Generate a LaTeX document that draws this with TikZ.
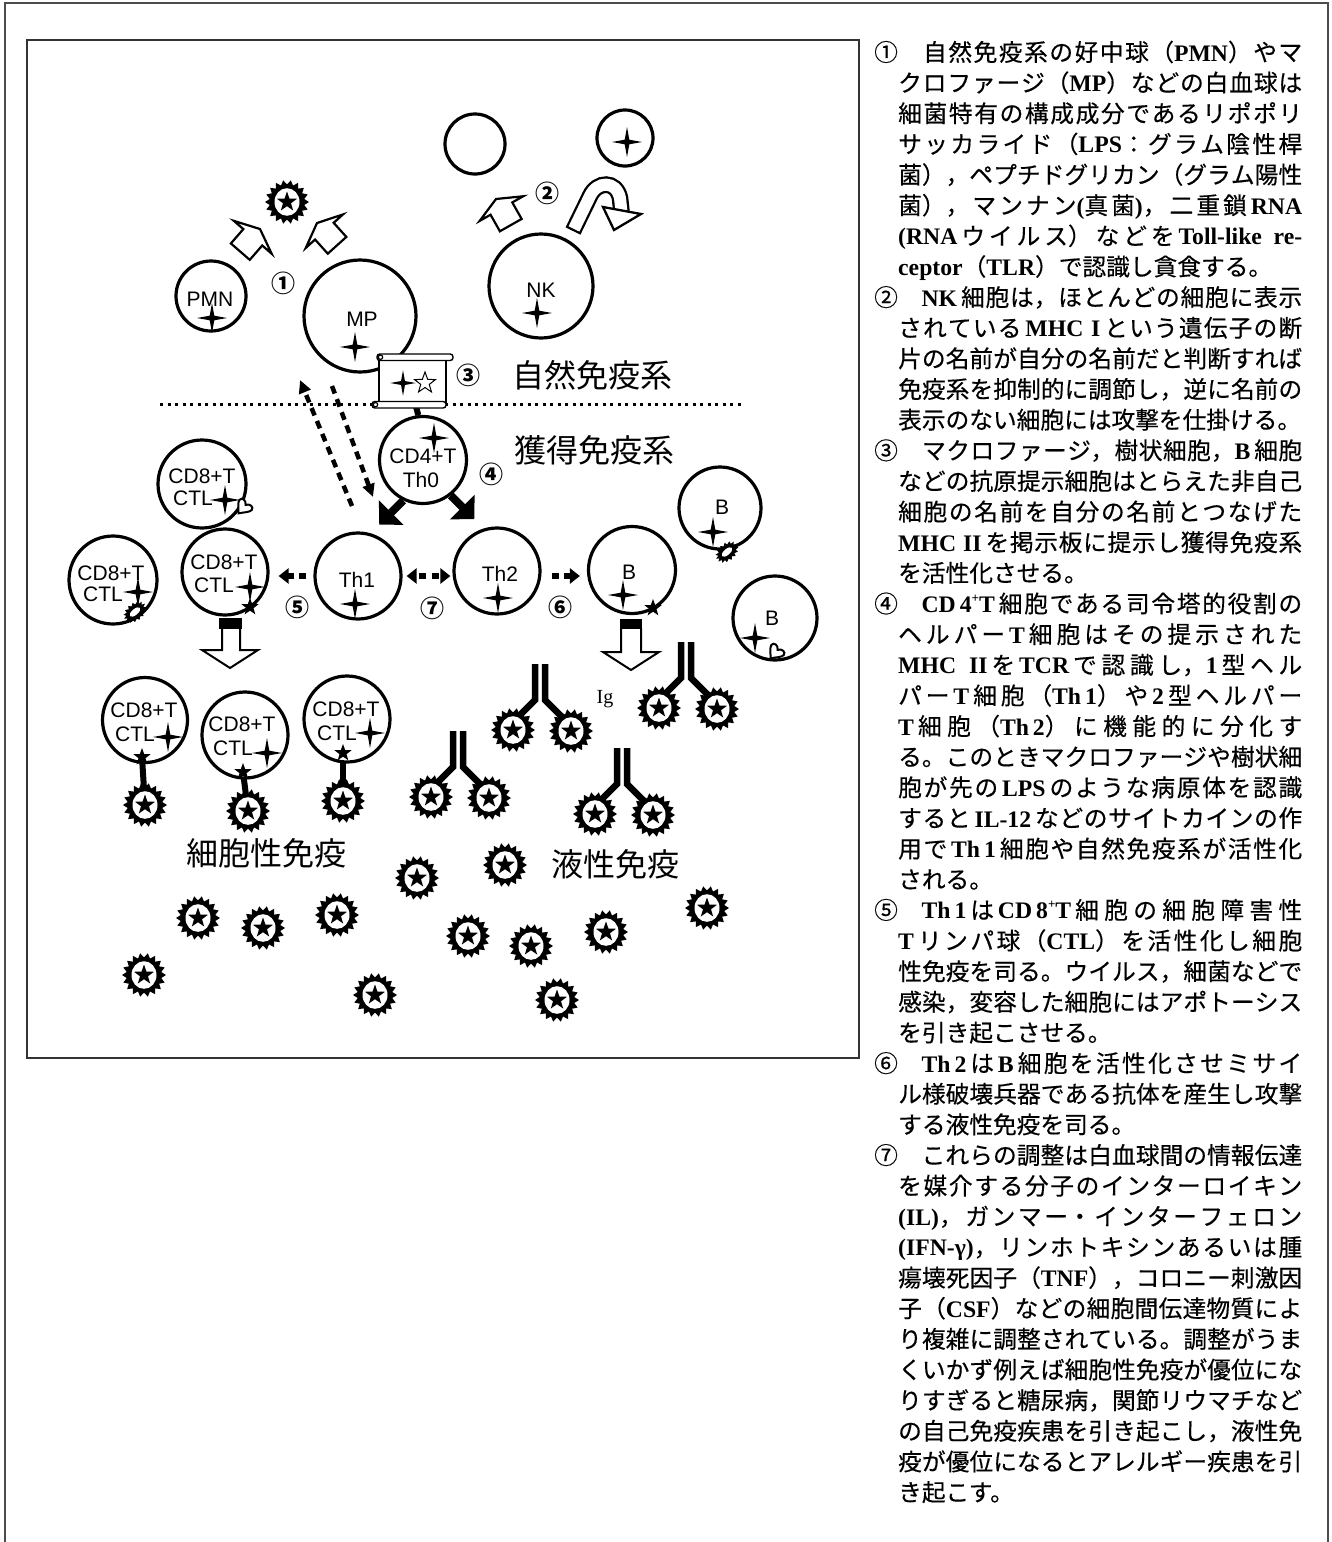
\documentclass[tikz,border=0pt]{standalone}
\usepackage{fontspec}
\usetikzlibrary{arrows.meta}
\newfontfamily\hv{Liberation Sans}
\newfontfamily\jp{Noto Sans CJK JP}
\newfontfamily\jpt{Noto Sans CJK JP}[FakeBold=0.4]
\newfontfamily\tm{Liberation Serif}
\XeTeXlinebreaklocale "ja"
\XeTeXlinebreakskip=0pt plus 2pt minus 0.6pt
\newcommand\e[1]{{\tm\bfseries #1}}
\newcommand\supp[1]{\raisebox{0.42em}{\fontsize{13}{13}\selectfont #1}}
\newcommand\jpar{\tolerance=10000\hbadness=10000\parfillskip=0pt\relax}
\newcommand\jfirst[2]{\pgfmathsetmacro\yy{61+(#1-1)*30.64}\node[txt] at (874,\yy) {\parbox[b]{428pt}{\jpar #2}};}
\newcommand\jmid[2]{\pgfmathsetmacro\yy{61+(#1-1)*30.64}\node[txt] at (898,\yy) {\parbox[b]{404pt}{\jpar #2}};}
\newcommand\jlast[2]{\pgfmathsetmacro\yy{61+(#1-1)*30.64}\node[txt] at (898,\yy) {#2};}
% open block arrow, tip at (#1,#2), pointing at angle #3
\newcommand\openarrow[3]{%
  \begin{scope}[shift={(#1,#2)}, rotate=#3]
    \draw[line width=2.2pt, fill=white, line join=miter] (0,0) -- (-11,-25) -- (-11,-12.5) -- (-30,-12.5) -- (-30,12.5) -- (-11,12.5) -- (-11,25) -- cycle;
  \end{scope}}
% antibody with stem centre #1 and top #2
\newcommand\antibody[2]{%
  \draw[line width=6.5pt, line join=miter] ({#1-5},#2) -- ({#1-5},{#2+36}) -- ({#1-20},{#2+51});
  \draw[line width=6.5pt, line join=miter] ({#1+5},#2) -- ({#1+5},{#2+36}) -- ({#1+22},{#2+53});
  \pic at ({#1-27},{#2+66}) {germ};
  \pic at ({#1+31},{#2+67}) {germ};}
\tikzset{
  cell/.style={circle, draw, line width=3.2pt, fill=white, inner sep=0pt, minimum size=#1},
  lbl/.style={font=\hv\fontsize{21}{21}\selectfont, inner sep=0pt},
  num/.style={font=\jp\bfseries\fontsize{24}{24}\selectfont, inner sep=0pt},
  big/.style={font=\jp\fontsize{32}{32}\selectfont, inner sep=0pt},
  txt/.style={anchor=base west, inner sep=0pt, font=\jpt\fontsize{23.7}{30}\selectfont},
  darr/.style={line width=6pt, dash pattern=on 7pt off 5pt, -{Triangle[length=10pt,width=15pt]}},
  darrtwo/.style={line width=6pt, dash pattern=on 0pt off 3pt on 7pt off 6pt on 7pt off 30pt, {Triangle[length=10pt,width=15pt]}-{Triangle[length=10pt,width=15pt]}},
  ddiag/.style={line width=4.5pt, dash pattern=on 8pt off 6pt, -{Triangle[length=13pt,width=12pt]}},
  fatarrow/.style={line width=8pt, -{Triangle[length=17pt,width=34pt]}},
  sparkle/.pic={\fill (0,-15) -- (2.3,-2.3) -- (15,0) -- (2.3,2.3) -- (0,15) -- (-2.3,2.3) -- (-15,0) -- (-2.3,-2.3) -- cycle;},
  germ/.pic={
    \fill (0:22) \foreach \a in {0,20,...,340}{ -- ({\a+10}:17.5) -- ({\a+20}:22) } -- cycle;
    \fill[white] (0,0) ellipse (12.5 and 13.8);
    \fill (-90:10.5) \foreach \k in {1,...,4}{ -- ({-90+36*(2*\k-1)}:4.2) -- ({-90+72*\k}:10.5) } -- (234:4.2) -- cycle;},
  bstar/.pic={\fill (-90:9) \foreach \k in {1,...,4}{ -- ({-90+36*(2*\k-1)}:3.7) -- ({-90+72*\k}:9) } -- (234:3.7) -- cycle;},
  wstar/.pic={\draw[line width=1pt, fill=white] (-90:11) \foreach \k in {1,...,4}{ -- ({-90+36*(2*\k-1)}:4.5) -- ({-90+72*\k}:11) } -- (234:4.5) -- cycle;},
  heart/.pic={\draw[line width=2pt, fill=white] (0,7) .. controls (-3,3) and (-8,-1) .. (-8,-4) .. controls (-8,-8) and (-2,-8) .. (0,-4) .. controls (2,-8) and (8,-8) .. (8,-4) .. controls (8,-1) and (3,3) .. (0,7) -- cycle;},
  blob/.pic={
    \fill ({13},0) \foreach \a in {0,24,...,336}{ -- ({10*cos(\a+12)},{6.5*sin(\a+12)}) -- ({13*cos(\a+24)},{9*sin(\a+24)}) } -- cycle;
    \fill[white] (0,0) ellipse (6.5 and 3);},
}
\begin{document}
\begin{tikzpicture}[x=1pt,y=-1pt]
\useasboundingbox (0,0) rectangle (1331,1542);

% page frame (open at the bottom) and figure frame
\draw[black!70, line width=2pt] (4.5,1542) -- (4.5,2.5) -- (1327.5,2.5) -- (1327.5,1542);
\node[draw=black!80, line width=1.5pt, minimum width=832pt, minimum height=1018pt, inner sep=0pt] (frame) at (443,549) {};

% boundary between innate and acquired immunity
\draw[line width=3pt, dash pattern=on 3pt off 4.5pt] (160,404) -- (743,404);

% ---------------- innate immunity ----------------
\pic at (287,202) {germ};
\openarrow{260}{229}{49}
\openarrow{317}{223}{132}
\node[num] at (283,283) {①};

\node[cell=70pt] (pmn) at (211,296) {};
\node[lbl] at (210,299) {PMN};
\pic at (212,318) {sparkle};

\node[cell=112pt] (mp) at (360,316) {};
\node[lbl] at (362,319) {MP};
\pic at (355,347) {sparkle};

\node[cell=60pt] (free) at (475,144) {};
\node[cell=56pt] (self) at (625,138) {};
\pic at (627,142) {sparkle};
\openarrow{496}{199}{119.5}
\node[num] at (547,193) {②};

% inhibitory hook arrow from NK
\draw[line width=16.6pt] (573,231) -- (590,196) .. controls (597,181) and (616,180) .. (620,198) -- (621.5,212);
\draw[white, line width=12pt, shorten <=2.3pt] (573,231) -- (590,196) .. controls (597,181) and (616,180) .. (620,198) -- (621.5,212);
\draw[line width=2.3pt, fill=white, line join=miter] (603,207) -- (641,214) -- (614,230) -- cycle;

\node[cell=104pt] (nk) at (541,286) {};
\node[lbl] at (541,290) {NK};
\pic at (537,313) {sparkle};

% antigen presentation board linked to the helper T cell
\node[cell=87pt] (cd4) at (423,460) {};
\node[draw, line width=1.4pt, fill=white, minimum width=67pt, minimum height=47pt, inner sep=0pt] (board) at (412.5,380.5) {};
\draw[line width=6pt] ([xshift=3pt]board.south) -- (cd4.96);
\draw[line width=1.4pt, fill=white, rounded corners=2.8pt] (377,354) rectangle (453,360.5);
\draw[line width=1.2pt] (380.5,357.2) circle (2.2);
\draw[line width=1.4pt, fill=white, rounded corners=2.8pt] (372,401.5) rectangle (446,408);
\draw[line width=1.2pt] (375.5,404.7) circle (2.2);
\pic[scale=0.85] at (403,383) {sparkle};
\pic at (425,383) {wstar};
\node[num] at (468,375) {③};
\node[big] at (592,375) {自然免疫系};

% ---------------- acquired immunity ----------------
\node[big] at (594,450) {獲得免疫系};
\node[lbl] at (423,456) {CD4+T};
\node[lbl] at (421,480) {Th0};
\pic at (434,438) {sparkle};
\node[num] at (491,474) {④};
\draw[fatarrow] (cd4.244) -- ++(-24,24);
\draw[fatarrow] (cd4.-52) -- ++(23.5,23.5);

\coordinate (upS) at (352,506);
\coordinate (upE) at (300,380);
\coordinate (dnS) at (332,386);
\coordinate (dnE) at (373,497);
\draw[ddiag] (upS) -- (upE);
\draw[ddiag] (dnS) -- (dnE);

\node[cell=88pt] (ctlu) at (202,484) {};
\node[lbl] at (202,476) {CD8+T};
\node[lbl] at (193,498) {CTL};
\pic at (225,500) {sparkle};
\pic[rotate=-40] at (243,508) {heart};

\node[cell=88pt] (ctll) at (113,580) {};
\node[lbl] at (111,573) {CD8+T};
\node[lbl] at (103,594) {CTL};
\pic at (138,592) {sparkle};
\pic[rotate=40] at (135,612) {blob};

\node[cell=86pt] (ctlm) at (225,572) {};
\node[lbl] at (224,562) {CD8+T};
\node[lbl] at (214,585) {CTL};
\pic at (250,587) {sparkle};
\pic at (250,607) {bstar};

\node[cell=86pt] (th1) at (358,576) {};
\node[lbl] at (357,580) {Th1};
\pic at (355,604) {sparkle};

\node[cell=86pt] (th2) at (497,571) {};
\node[lbl] at (500,574) {Th2};
\pic at (498,598) {sparkle};

\node[cell=87pt] (bm) at (632,570) {};
\node[lbl] at (629,572) {B};
\pic at (623,595) {sparkle};
\pic at (653,608) {bstar};

\node[cell=82pt] (bu) at (720,508) {};
\node[lbl] at (722,507) {B};
\pic at (713,532) {sparkle};
\pic[rotate=40] at (727,552) {blob};

\node[cell=84pt] (bl) at (775,618) {};
\node[lbl] at (772,618) {B};
\pic at (755,638) {sparkle};
\pic[rotate=-40] at (775,653) {heart};

% cytokine signalling arrows
\draw[darr, shorten <=7pt, shorten >=9pt] (th1.west) -- (th1.west -| ctlm.east);
\draw[darrtwo, shorten <=4pt, shorten >=2pt] (th1.east) -- (th1.east -| th2.west);
\draw[darr, shorten <=10pt, shorten >=7pt] ([yshift=-5pt]th2.east) -- ([yshift=-5pt]th2.east -| bm.west);
\node[num] at (297,607) {⑤};
\node[num] at (432,608) {⑦};
\node[num] at (560,607) {⑥};

% proliferation arrows
\draw[line width=2pt, fill=white, line join=miter] (222,628) -- (222,650) -- (202,650) -- (230,668) -- (258,650) -- (240,650) -- (240,628);
\fill (219,617.5) rectangle (242,628.5);
\draw[line width=2pt, fill=white, line join=miter] (621,628) -- (621,652) -- (603,652) -- (631,670) -- (659,652) -- (641,652) -- (641,628);
\fill (620,618.5) rectangle (642,628.5);

% cellular immunity
\draw[line width=6pt] (142,757) -- (145,805);
\draw[line width=6pt] (243,772) -- (248,811);
\draw[line width=6pt] (343,753) -- (343,801);
\node[cell=85pt] (ca) at (145,720) {};
\node[lbl] at (144,710) {CD8+T};
\node[lbl] at (135,734) {CTL};
\pic at (168,737) {sparkle};
\pic at (142,757) {bstar};
\node[cell=86pt] (cb) at (245,735) {};
\node[lbl] at (242,724) {CD8+T};
\node[lbl] at (233,748) {CTL};
\pic at (267,753) {sparkle};
\pic at (243,772) {bstar};
\node[cell=86pt] (cc) at (347,719) {};
\node[lbl] at (346,709) {CD8+T};
\node[lbl] at (337,733) {CTL};
\pic at (370,733) {sparkle};
\pic at (343,753) {bstar};
\pic at (145,805) {germ};
\pic at (248,811) {germ};
\pic at (343,801) {germ};
\node[big] at (266,853) {細胞性免疫};

% humoral immunity
\node[inner sep=0pt, anchor=base, font=\tm\fontsize{20}{20}\selectfont] at (605,703) {Ig};
\antibody{686}{642}
\antibody{540}{664}
\antibody{458}{731}
\antibody{622}{748}
\node[big] at (615,864) {液性免疫};

% free pathogens
\foreach \p in {(144,975),(198,918),(263,928),(337,915),(375,995),(417,878),(505,865),(468,936),(531,946),(606,932),(557,1000),(707,908)}
  \pic at \p {germ};

% ---------------- explanation column ----------------
\jfirst{1}{①　自然免疫系の好中球（\e{PMN}）やマ}
\jmid{2}{クロファージ（\e{MP}）などの白血球は}
\jmid{3}{細菌特有の構成成分であるリポポリ}
\jmid{4}{サッカライド（\e{LPS}：グラム陰性桿}
\jmid{5}{菌），ペプチドグリカン（グラム陽性}
\jmid{6}{菌），マンナン\e{(}真菌\e{)}，二重鎖\,\e{RNA}}
\jmid{7}{\e{(RNA}\,ウイルス）などを\,\e{Toll-like re-}}
\jlast{8}{\e{ceptor}（\e{TLR}）で認識し貪食する。}
\jfirst{9}{②　\e{NK}\,細胞は，ほとんどの細胞に表示}
\jmid{10}{されている\,\e{MHC I}\,という遺伝子の断}
\jmid{11}{片の名前が自分の名前だと判断すれば}
\jmid{12}{免疫系を抑制的に調節し，逆に名前の}
\jlast{13}{表示のない細胞には攻撃を仕掛ける。}
\jfirst{14}{③　マクロファージ，樹状細胞，\e{B}\,細胞}
\jmid{15}{などの抗原提示細胞はとらえた非自己}
\jmid{16}{細胞の名前を自分の名前とつなげた}
\jmid{17}{\e{MHC II}\,を掲示板に提示し獲得免疫系}
\jlast{18}{を活性化させる。}
\jfirst{19}{④　\e{CD\,4\supp{+}T}\,細胞である司令塔的役割の}
\jmid{20}{ヘルパー\,\e{T}\,細胞はその提示された}
\jmid{21}{\e{MHC II}\,を\,\e{TCR}\,で認識し，\e{1}\,型ヘル}
\jmid{22}{パー\,\e{T}\,細胞（\e{Th\,1}）や\,\e{2}\,型ヘルパー}
\jmid{23}{\e{T}\,細胞（\e{Th\,2}）に機能的に分化す}
\jmid{24}{る。このときマクロファージや樹状細}
\jmid{25}{胞が先の\,\e{LPS}\,のような病原体を認識}
\jmid{26}{すると\,\e{IL-12}\,などのサイトカインの作}
\jmid{27}{用で\,\e{Th\,1}\,細胞や自然免疫系が活性化}
\jlast{28}{される。}
\jfirst{29}{⑤　\e{Th\,1}\,は\,\e{CD\,8\supp{+}T}\,細胞の細胞障害性}
\jmid{30}{\e{T}\,リンパ球（\e{CTL}）を活性化し細胞}
\jmid{31}{性免疫を司る。ウイルス，細菌などで}
\jmid{32}{感染，変容した細胞にはアポトーシス}
\jlast{33}{を引き起こさせる。}
\jfirst{34}{⑥　\e{Th\,2}\,は\,\e{B}\,細胞を活性化させミサイ}
\jmid{35}{ル様破壊兵器である抗体を産生し攻撃}
\jlast{36}{する液性免疫を司る。}
\jfirst{37}{⑦　これらの調整は白血球間の情報伝達}
\jmid{38}{を媒介する分子のインターロイキン}
\jmid{39}{\e{(IL)}，ガンマー・インターフェロン}
\jmid{40}{\e{(IFN-γ)}，リンホトキシンあるいは腫}
\jmid{41}{瘍壊死因子（\e{TNF}），コロニー刺激因}
\jmid{42}{子（\e{CSF}）などの細胞間伝達物質によ}
\jmid{43}{り複雑に調整されている。調整がうま}
\jmid{44}{くいかず例えば細胞性免疫が優位にな}
\jmid{45}{りすぎると糖尿病，関節リウマチなど}
\jmid{46}{の自己免疫疾患を引き起こし，液性免}
\jmid{47}{疫が優位になるとアレルギー疾患を引}
\jlast{48}{き起こす。}
\end{tikzpicture}
\end{document}
